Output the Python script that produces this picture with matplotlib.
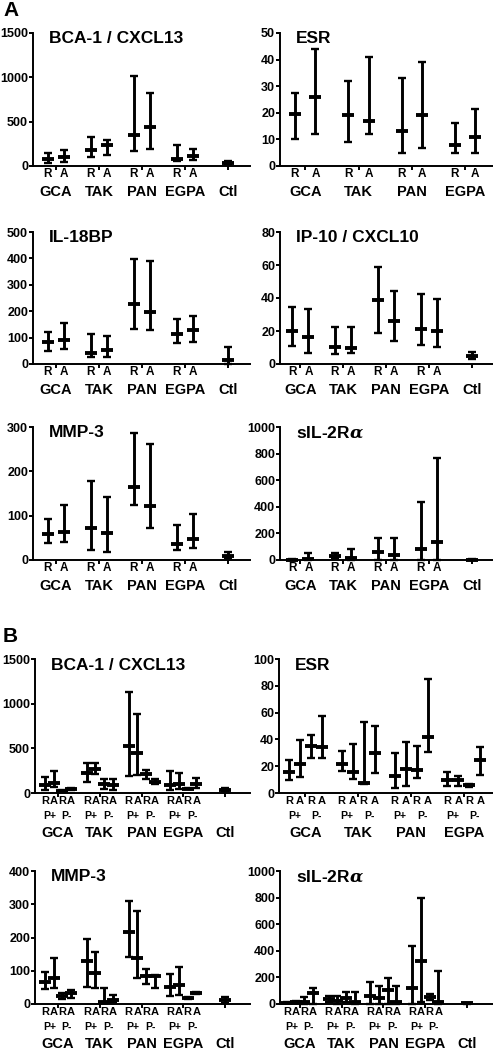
import numpy as np
import matplotlib
matplotlib.use("Agg")
import matplotlib.pyplot as plt

plt.rcParams["font.family"] = ["Liberation Sans", "DejaVu Sans"]
plt.rcParams["font.weight"] = "bold"
plt.rcParams["mathtext.fontset"] = "dejavuserif"

GROUPS = ["GCA", "TAK", "PAN", "EGPA"]
CTL_LABEL = "Ctl"
SUB_A = ["R", "A"]
SUB_B = ["R", "A", "R", "A"]
PHENO_B = ["P+", "P-"]

# panel A order: GCA R, GCA A, TAK R, TAK A, PAN R, PAN A, EGPA R, EGPA A, (Ctl)
bca_a_med = [80, 100, 180, 235, 350, 435, 75, 113, 38]
bca_a_lo = [30, 50, 100, 125, 173, 188, 60, 68, 25]
bca_a_hi = [150, 180, 325, 290, 1010, 822, 237, 192, 55]

esr_a_med = [19.5, 26, 19, 17, 13, 19, 8, 11]
esr_a_lo = [10, 12.2, 9, 12, 5, 6.8, 5, 5]
esr_a_hi = [27.3, 44, 32, 41, 33, 39, 16, 21.4]

il18_med = [82, 91, 40, 53, 227, 198, 113, 130, 14]
il18_lo = [50, 57, 25, 25, 131, 128, 78, 84, 0]
il18_hi = [122, 154, 112, 107, 399, 390, 169, 183, 65]

ip10_med = [20.2, 16.2, 10.5, 10, 38.5, 26, 21.3, 19.8, 4.7]
ip10_lo = [10.7, 6.5, 6, 6.7, 18.6, 13.8, 11.7, 10.5, 3]
ip10_hi = [34.8, 33.4, 22.3, 22.3, 58.7, 44.5, 42.5, 39.5, 7]

mmp3_a_med = [58, 64, 73, 60, 164, 122, 36, 47, 10]
mmp3_a_lo = [38, 40, 23, 17, 124, 72, 23, 28, 4]
mmp3_a_hi = [93, 124, 179, 142, 286, 261, 79, 104, 19]

il2r_a_med = [2, 5, 30, 18, 60, 35, 86, 136, 2]
il2r_a_lo = [0, 0, 18, 0, 0, 0, 0, 0, 0]
il2r_a_hi = [5, 55, 55, 80, 164, 164, 433, 768, 5]

# panel B order per group: R P+, A P+, R P-, A P-, then Ctl
bca_b_med = [86, 116, 22, 49, 225, 266, 105, 94, 525, 450, 210, 124, 86, 98, 49, 105, 38]
bca_b_lo = [38, 68, 8, 30, 124, 210, 49, 38, 190, 200, 161, 98, 38, 49, 42, 56, 25]
bca_b_hi = [180, 248, 38, 60, 338, 341, 161, 154, 1136, 885, 255, 161, 244, 225, 55, 169, 55]

esr_b_med = [15.8, 22, 35.4, 34.7, 22, 16, 7.8, 29.6, 12.8, 17.8, 17, 42, 9.5, 9.8, 5.8, 24.6]
esr_b_lo = [9.5, 11.6, 26, 26, 16.6, 10.3, 7, 14.6, 3.5, 5.5, 11, 30.4, 5.3, 5.3, 4.5, 13.6]
esr_b_hi = [24.6, 39.7, 43.5, 57.3, 31.7, 36.7, 53, 50, 30, 38, 35.4, 85, 15.3, 12.6, 6.5, 34]

mmp3_b_med = [65, 77, 24, 34, 129, 92, 7, 12, 217, 137, 85, 84, 52, 57, 19, 34, 12]
mmp3_b_lo = [44, 49, 15, 17, 52, 47, 2, 5, 142, 77, 60, 49, 25, 27, 15, 30, 2]
mmp3_b_hi = [97, 139, 34, 42, 195, 155, 47, 27, 309, 279, 104, 87, 90, 110, 22, 37, 20]

il2r_b_med = [10, 15, 18, 80, 38, 25, 43, 18, 63, 48, 106, 18, 118, 325, 50, 18, 5]
il2r_b_lo = [5, 5, 0, 0, 18, 0, 18, 0, 0, 0, 0, 0, 0, 18, 30, 0, 0]
il2r_b_hi = [15, 23, 50, 123, 60, 60, 93, 93, 164, 139, 199, 139, 433, 794, 76, 249, 8]

W, H = 493, 1050
fig = plt.figure(figsize=(W / 100, H / 100), dpi=100)


def add_ax(x0, x1, y0, y1):
    # pixel box -> figure fraction
    return fig.add_axes([x0 / W, 1 - y1 / H, (x1 - x0) / W, (y1 - y0) / H])


def panel(ax, med, lo, hi, sub, step, yticks, title, xlim, pheno=None):
    n_sub = len(sub)
    x = [g * step + s for g in range(len(GROUPS)) for s in range(n_sub)]
    centers = [g * step + (n_sub - 1) / 2 for g in range(len(GROUPS))]
    has_ctl = len(med) > len(x)
    if has_ctl:
        ctl_x = len(GROUPS) * step + (n_sub - 1) / 2
        x.append(ctl_x)
        centers.append(ctl_x)
    med, lo, hi = map(np.asarray, (med, lo, hi))
    ax.errorbar(x, med, yerr=[med - lo, hi - med], fmt="none", ecolor="black",
                elinewidth=2.1, capsize=3.0, capthick=1.7, clip_on=False, zorder=3)
    ax.plot(x, med, ls="none", marker="_", ms=8.5, mew=2.8, color="black",
            clip_on=False, zorder=4)

    ax.set_xlim(*xlim)
    ax.set_ylim(0, yticks[-1])
    ax.set_yticks(yticks)
    ax.set_yticklabels([f"{v:g}" for v in yticks], fontsize=9, fontweight="bold")
    ax.set_xticks(centers)
    ax.set_xticklabels([])
    for s in ("top", "right"):
        ax.spines[s].set_visible(False)
    for s in ("left", "bottom"):
        ax.spines[s].set_linewidth(1.4)
    ax.tick_params(axis="both", direction="out", length=3, width=1.4, pad=0.5)

    ax.text(0.075, 0.955, title, transform=ax.transAxes, ha="left", va="center",
            fontsize=12.5, fontweight="bold")

    xy = ("data", "axes fraction")
    sub_fs = 8.5 if pheno is None else 8
    for xi, lab in zip(x, [s for _ in GROUPS for s in sub]):
        ax.annotate(lab, (xi, 0), xycoords=xy, xytext=(0, -6), textcoords="offset points",
                    ha="center", va="center", fontsize=sub_fs, fontweight="bold")
    if pheno is None:
        grp_off = -19
    else:
        grp_off = -29
        for g in range(len(GROUPS)):
            for k, lab in enumerate(pheno):
                ax.annotate(lab, (g * step + 2 * k + 0.5, 0), xycoords=xy, xytext=(0, -16.5),
                            textcoords="offset points", ha="center", va="center",
                            fontsize=7.5, fontweight="bold")
    names = GROUPS + ([CTL_LABEL] if has_ctl else [])
    for c, lab in zip(centers, names):
        ax.annotate(lab, (c, 0), xycoords=xy, xytext=(0, grp_off), textcoords="offset points",
                    ha="center", va="center", fontsize=10.5, fontweight="bold")


STEP_A, STEP_B = 2.6, 4.8

panel(add_ax(33, 250, 33, 166), bca_a_med, bca_a_lo, bca_a_hi, SUB_A, STEP_A,
      [0, 500, 1000, 1500], "BCA-1 / CXCL13", (-0.9, 12.25))
panel(add_ax(280, 493, 33, 166), esr_a_med, esr_a_lo, esr_a_hi, SUB_A, STEP_A,
      [0, 10, 20, 30, 40, 50], "ESR", (-0.73, 9.66))
panel(add_ax(33, 250, 232, 364), il18_med, il18_lo, il18_hi, SUB_A, STEP_A,
      [0, 100, 200, 300, 400, 500], "IL-18BP", (-0.9, 12.25))
panel(add_ax(280, 493, 232, 364), ip10_med, ip10_lo, ip10_hi, SUB_A, STEP_A,
      [0, 20, 40, 60, 80], "IP-10 / CXCL10", (-0.73, 12.2))
panel(add_ax(33, 250, 427, 560), mmp3_a_med, mmp3_a_lo, mmp3_a_hi, SUB_A, STEP_A,
      [0, 100, 200, 300], "MMP-3", (-0.9, 12.25))
panel(add_ax(280, 493, 427, 560), il2r_a_med, il2r_a_lo, il2r_a_hi, SUB_A, STEP_A,
      [0, 200, 400, 600, 800, 1000], r"sIL-2R$\alpha$", (-0.73, 12.2))

panel(add_ax(35, 250, 659, 793), bca_b_med, bca_b_lo, bca_b_hi, SUB_B, STEP_B,
      [0, 500, 1000, 1500], "BCA-1 / CXCL13", (-1.15, 23.56), PHENO_B)
panel(add_ax(279, 493, 659, 793), esr_b_med, esr_b_lo, esr_b_hi, SUB_B, STEP_B,
      [0, 20, 40, 60, 80, 100], "ESR", (-0.9, 18.55), PHENO_B)
panel(add_ax(35, 250, 871, 1004), mmp3_b_med, mmp3_b_lo, mmp3_b_hi, SUB_B, STEP_B,
      [0, 100, 200, 300, 400], "MMP-3", (-1.15, 23.56), PHENO_B)
panel(add_ax(280, 493, 871, 1004), il2r_b_med, il2r_b_lo, il2r_b_hi, SUB_B, STEP_B,
      [0, 200, 400, 600, 800, 1000], r"sIL-2R$\alpha$", (-0.8, 23.7), PHENO_B)

fig.text(11 / W, 1 - 11 / H, "A", fontsize=15, fontweight="bold", ha="center", va="center")
fig.text(10 / W, 1 - 637 / H, "B", fontsize=15, fontweight="bold", ha="center", va="center")

fig.savefig("out.png", dpi=100)
